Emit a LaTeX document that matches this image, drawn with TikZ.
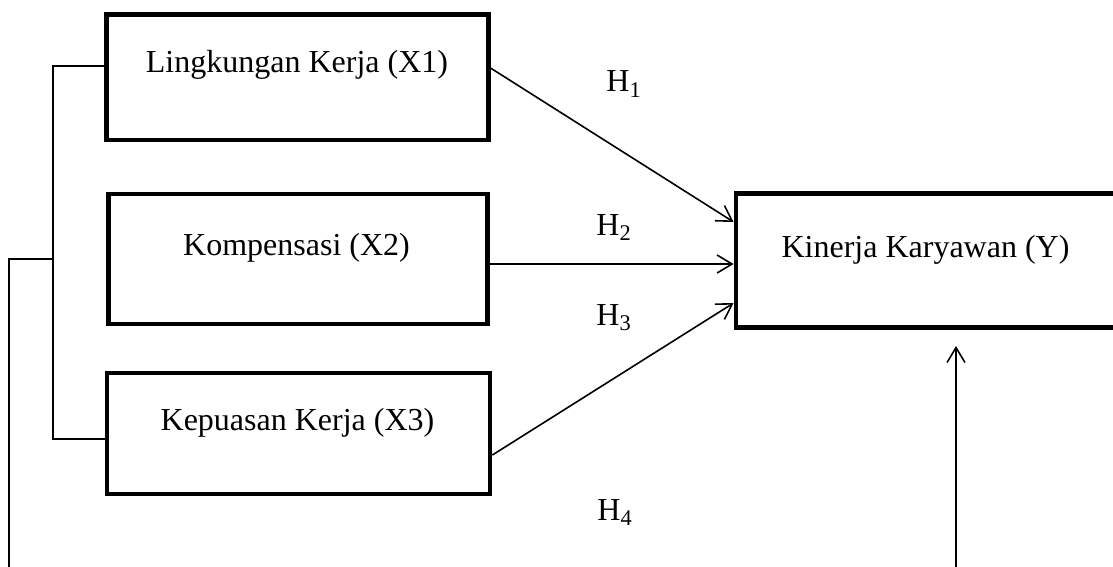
\documentclass[tikz,border=0pt]{standalone}
\usepackage{fontspec}
\setmainfont{Liberation Serif}
\usetikzlibrary{arrows.meta,calc}
\begin{document}
\begin{tikzpicture}[x=0.5pt,y=-0.5pt,
  box/.style={draw, line width=2.4pt, rectangle, inner sep=0pt},
  txt/.style={inner sep=0pt, anchor=base, font=\fontsize{16}{19}\selectfont},
  hlbl/.style={inner sep=0pt, anchor=base west, font=\fontsize{16}{19}\selectfont},
  thinline/.style={line width=0.8pt},
  arr/.style={thinline, -{Straight Barb[length=7.5pt,width=9pt,line width=0.8pt]}}]
\useasboundingbox (0,0) rectangle (1113,567);
\clip (0,0) rectangle (1113,567);
% boxes
\node[box, minimum width=191pt, minimum height=62.75pt] (x1) at (297.5,77.25) {};
\node[box, minimum width=189.5pt, minimum height=65pt] (x2) at (298,259) {};
\node[box, minimum width=191.5pt, minimum height=60.5pt] (x3) at (298.5,433.5) {};
\node[box, minimum width=190pt, minimum height=67pt] (y) at (926,260.5) {};
% texts
\node[txt] (t1) at (297,73) {Lingkungan Kerja (X1)};
\node[txt] (t2) at (296.5,255) {Kompensasi (X2)};
\node[txt] (t3) at (297.5,430) {Kepuasan Kerja (X3)};
\node[txt] (ty) at (925.5,257) {Kinerja Karyawan (Y)};
% hypothesis labels
\node[hlbl] (h1) at (606,92) {H\textsubscript{1}};
\node[hlbl] (h2) at (596,235) {H\textsubscript{2}};
\node[hlbl] (h3) at (596,325) {H\textsubscript{3}};
\node[hlbl] (h4) at (597,520) {H\textsubscript{4}};
% arrows
\draw[arr] ($(x1.east)+(0,-9)$) -- ($(y.west)+(0,-38.5)$);
\draw[arr] ($(x2.east)+(0,5)$) -- ($(y.west)+(0,3.5)$);
\draw[arr] ($(x3.east)+(0,21.5)$) -- ($(y.west)+(0,42.5)$);
% vertical arrow
\coordinate (vb) at (956,567);
\coordinate (vt) at (956,346);
\draw[arr] (vb) -- (vt);
% left bracket
\coordinate (b1) at (53,66);
\coordinate (b3) at (53,439);
\coordinate (bm) at (53,259);
\coordinate (o1) at (9,259);
\coordinate (o2) at (9,567);
\draw[thinline] (x1.west |- b1) -- (b1) -- (b3) -- (x3.west |- b3);
\draw[thinline] (bm) -- (o1) -- (o2);
\end{tikzpicture}
\end{document}
